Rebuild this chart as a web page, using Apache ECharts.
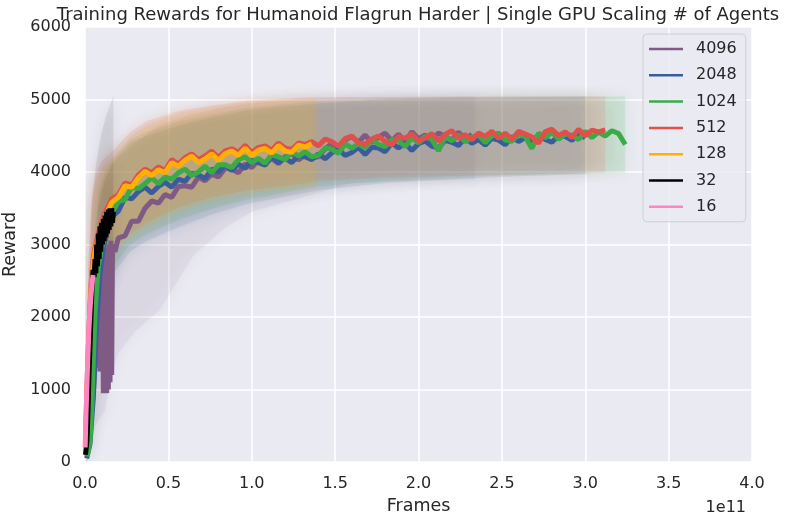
<!DOCTYPE html>
<html><head><meta charset="utf-8">
<script src="https://cdn.jsdelivr.net/npm/echarts@6/dist/echarts.min.js"></script>
<style>html,body{margin:0;padding:0;background:#fff}#c{width:789px;height:521px}</style>
</head><body><div id="c"></div>
<script>
// ---- data (frames in units of 1e11) ----
const names = ['4096','2048','1024','512','128','32','16'];
const colors = ['#7E5A84','#3B5C9C','#3AAB47','#E0504A','#FFB000','#000000','#FF85C0'];
const xTicks = [0.0,0.5,1.0,1.5,2.0,2.5,3.0,3.5,4.0];
const yTicks = [0,1000,2000,3000,4000,5000,6000];

const gridFrames = [0.20,0.24,0.28,0.32,0.36,0.40,0.44,0.48,0.52,0.56,0.60,0.64,0.68,0.72,0.76,0.80,0.84,0.88,0.92,0.96,
  1.00,1.04,1.08,1.12,1.16,1.20,1.24,1.28,1.32,1.36,1.40,1.44,1.48,1.52,1.56,1.60,1.64,1.68,1.72,1.76,
  1.80,1.84,1.88,1.92,1.96,2.00,2.04,2.08,2.12,2.16,2.20,2.24,2.28,2.32,2.36,2.40,2.44,2.48,2.52,2.56,
  2.60,2.64,2.68,2.72,2.76,2.80,2.84,2.88,2.92,2.96,3.00,3.04,3.08,3.12,3.16,3.20,3.24];

// 4096 agents
const purpleEarlyX = [0.005,0.02,0.03,0.04,0.05,0.06,0.065,0.07,0.075,0.08,0.085,0.09,0.095,0.10,0.105,0.11,0.115,0.12,0.125,0.13,0.135,0.14,0.145,0.15,0.155,0.16,0.165,0.17,0.18,0.19];
const purpleEarly = [100,250,400,700,950,1500,2300,1300,2550,1300,2600,1250,2650,1300,2700,950,2800,1000,2900,950,2950,1000,3000,1100,3050,1200,3000,2950,2900,3000];
const purpleLate = [3090,3120,3320,3320,3500,3600,3570,3690,3650,3800,3810,3790,3930,3880,3970,3930,4050,4040,3990,4110,4060,4160,4120,4190,4115,4210,4255,4165,4235,4195,
  4210,4320,4390,4320,4440,4490,4410,4510,4405,4480,4535,4430,4522,4414,4556,4458,4510,4430,4540,4490,4440,4550,4450,4520];
// 2048 agents
const blueEarlyX = [0.01,0.03,0.05,0.07,0.09,0.11,0.13,0.15,0.17];
const blueEarly = [50,250,900,1900,2600,2950,3150,3300,3400];
const blueLate = [3460,3650,3630,3730,3790,3710,3800,3860,3790,3900,3870,3980,3960,3910,4040,4000,4100,4020,4110,4050,4160,4130,4095,4210,4130,4190,4130,4230,4210,4170,
  4250,4182,4264,4316,4228,4270,4340,4240,4340,4330,4280,4400,4330,4400,4295,4390,4428,4355,4332,4436,4410,4365,4470,4395,4448,4370,4465,4440,4375,4488,4420,4475,4410,4515,4448,4410,4505,4490,4435,4528,4470];
// 1024 agents
const greenEarlyX = [0.01,0.02,0.03,0.04,0.048,0.06,0.07,0.08,0.10,0.12,0.14,0.16];
const greenEarly = [80,150,300,700,1300,2050,2400,2700,2950,3150,3300,3430];
const greenLate = [3590,3620,3790,3770,3840,3920,3840,3930,3900,3990,4040,3950,4000,4080,3990,4100,4100,4060,4170,4210,4130,4190,4120,4240,4210,4170,4285,4220,4280,4210,
  4230,4332,4315,4258,4390,4330,4390,4330,4450,4380,4350,4446,4432,4348,4474,4400,4494,4448,4292,4486,4430,4513,4416,4479,4512,4404,4496,4538,4440,4423,4516,4490,4323,4536,4469,4550,4452,4524,4506,4448,4560,4475,4550,4495,4570,4530,4380];
// 512 agents
const redEarlyX = [0.003,0.01,0.02,0.03,0.04,0.05,0.06,0.08,0.10,0.12,0.14,0.16];
const redEarly = [250,900,1600,2150,2580,2820,2960,3150,3300,3430,3530,3630];
const redLate = [3690,3850,3820,3960,4040,3990,4070,4020,4170,4110,4200,4250,4170,4220,4290,4200,4290,4320,4270,4370,4270,4340,4360,4300,4400,4330,4310,4400,4380,4420,
  4360,4455,4420,4355,4460,4495,4400,4382,4455,4498,4420,4375,4490,4468,4525,4430,4465,4530,4425,4518,4570,4462,4514,4446,4538,4490,4562,4464,4536,4448,4560,4522,4484,4396,4558,4590,4502,4554,4476,4588,4500,4576,4553,4580];
// 128 agents
const orangeEarlyX = [0.003,0.01,0.02,0.03,0.04,0.05,0.06,0.08,0.10,0.12,0.14,0.16];
const orangeEarly = [200,800,1500,2050,2500,2750,2900,3100,3250,3380,3480,3580];
const orangeLate = [3650,3810,3790,3920,4010,3950,4030,3990,4130,4080,4160,4220,4130,4180,4250,4160,4250,4290,4230,4330,4230,4300,4325,4260,4365,4290,4270,4370,4345,4390];
// 32 agents
const blackX = [0.003,0.012,0.018,0.024,0.030,0.036,0.042,0.048,0.055,0.060,0.065,0.070,0.075,0.080,0.085,0.090,0.095,0.100,0.105,0.110,0.115,0.120,0.125,0.130,0.135,0.140,0.145,0.150,0.155,0.160,0.165,0.170];
const blackY = [100,300,700,1200,1600,2000,2400,2650,2550,2800,2600,3000,2700,3150,2800,3250,2900,3300,3000,3350,3050,3400,3100,3450,3150,3480,3200,3500,3250,3500,3300,3450];
// 16 agents
const pinkX = [0.001,0.006,0.012,0.018,0.024,0.030,0.036,0.042,0.048];
const pinkY = [200,650,1100,1500,1850,2100,2300,2450,2580];

// std bands (lower / upper edges)
const purpleBandX = [0.005,0.03,0.06,0.09,0.12,0.16,0.2,0.3,0.45,0.65,0.85,1.0,1.3,1.6,2.0,2.34];
const purpleBandLo = [0,150,500,600,700,1200,1500,1800,2100,2850,3250,3450,3650,3850,3880,3900];
const purpleBandHi = [400,1500,3300,3700,3900,4100,4200,4400,4650,4800,4900,4950,5000,5030,5040,5040];
const blueBandX = [0.01,0.03,0.05,0.08,0.12,0.17,0.27,0.37,0.57,0.77,0.97,1.17,1.4,1.8,2.2,2.6,3.0];
const blueBandLo = [0,100,400,1400,2200,2600,2900,3050,3250,3420,3560,3650,3750,3850,3900,3940,3970];
const blueBandHi = [200,700,2000,3500,3900,4150,4400,4500,4650,4760,4850,4900,4950,5000,5020,5030,5040];
const greenBandX = [0.01,0.03,0.05,0.08,0.12,0.17,0.27,0.37,0.57,0.77,0.97,1.17,1.4,1.8,2.2,2.6,3.0,3.24];
const greenBandLo = [0,100,500,1800,2300,2700,3000,3150,3350,3500,3620,3700,3800,3880,3930,3960,3980,3990];
const greenBandHi = [300,800,2600,3700,4000,4200,4450,4550,4700,4800,4880,4930,4980,5010,5030,5040,5040,5040];
const redBandX = [0.003,0.02,0.04,0.07,0.1,0.17,0.27,0.37,0.57,0.77,0.97,1.17,1.4,1.8,2.2,2.6,3.0,3.12];
const redBandLo = [0,900,1700,2200,2500,2950,3150,3300,3520,3660,3750,3800,3880,3920,3950,3970,3990,4000];
const redBandHi = [700,2700,3700,4000,4150,4300,4550,4700,4850,4920,4980,5010,5030,5030,5040,5040,5040,5040];
const orangeBandX = [0.003,0.02,0.04,0.07,0.1,0.17,0.27,0.37,0.57,0.77,0.97,1.17,1.38];
const orangeBandLo = [0,800,1600,2100,2400,2900,3100,3250,3480,3620,3710,3760,3800];
const orangeBandHi = [600,2600,3600,3900,4050,4200,4490,4650,4820,4900,4970,5000,5020];
const blackBandX = [0.003,0.02,0.04,0.06,0.08,0.1,0.13,0.17];
const blackBandLo = [0,200,1100,1700,2000,2200,2400,2600];
const blackBandHi = [500,2000,3500,4000,4300,4550,4800,5050];
const pinkBandX = [0.001,0.01,0.02,0.03,0.04,0.048];
const pinkBandLo = [0,500,1000,1400,1700,1900];
const pinkBandHi = [600,1800,2700,3200,3500,3700];

// ---- build ----
const FONT = '"DejaVu Sans", sans-serif';
const TXT = '#262626';
const bandOpacity = [0.065, 0.11, 0.11, 0.11, 0.1, 0.08, 0.11];
function pairs(xs, ys){ return xs.map((x,i)=>[x, ys[i]]); }

const lineData = [
  pairs(purpleEarlyX.concat(gridFrames.slice(0, purpleLate.length)), purpleEarly.concat(purpleLate)),
  pairs(blueEarlyX.concat(gridFrames.slice(0, blueLate.length)), blueEarly.concat(blueLate)),
  pairs(greenEarlyX.concat(gridFrames.slice(0, greenLate.length)), greenEarly.concat(greenLate)),
  pairs(redEarlyX.concat(gridFrames.slice(0, redLate.length)), redEarly.concat(redLate)),
  pairs(orangeEarlyX.concat(gridFrames.slice(0, orangeLate.length)), orangeEarly.concat(orangeLate)),
  pairs(blackX, blackY),
  pairs(pinkX, pinkY)
];
const bands = [
  [purpleBandX, purpleBandLo, purpleBandHi],
  [blueBandX, blueBandLo, blueBandHi],
  [greenBandX, greenBandLo, greenBandHi],
  [redBandX, redBandLo, redBandHi],
  [orangeBandX, orangeBandLo, orangeBandHi],
  [blackBandX, blackBandLo, blackBandHi],
  [pinkBandX, pinkBandLo, pinkBandHi]
];

const series = [];
bands.forEach((b, k) => {
  series.push({
    type: 'custom', name: names[k] + ' band', silent: true, z: 1, clip: true,
    data: [[0, 0]],
    renderItem: function (params, api) {
      const pts = [];
      for (let i = 0; i < b[0].length; i++) pts.push(api.coord([b[0][i], b[2][i]]));
      for (let i = b[0].length - 1; i >= 0; i--) pts.push(api.coord([b[0][i], b[1][i]]));
      return { type: 'polygon', shape: { points: pts },
        style: { fill: colors[k], opacity: bandOpacity[k], shadowBlur: 14, shadowColor: colors[k] } };
    }
  });
});
lineData.forEach((d, k) => {
  series.push({
    type: 'line', name: names[k], data: d, color: colors[k], z: 3 + k,
    showSymbol: false, symbol: 'none', sampling: null,
    lineStyle: { width: 5, color: colors[k], join: 'bevel' }
  });
});

const chart = echarts.init(document.getElementById('c'), null, { renderer: 'canvas' });
chart.setOption({
  animation: false,
  backgroundColor: '#ffffff',
  grid: { left: 85, right: 37, top: 27, bottom: 59, show: true, backgroundColor: '#EAEAF2', borderWidth: 0, outerBoundsMode: 'none', containLabel: false },
  xAxis: {
    type: 'value', min: xTicks[0], max: xTicks[xTicks.length - 1], interval: 0.5,
    axisLine: { show: false }, axisTick: { show: false },
    splitLine: { lineStyle: { color: '#ffffff', width: 1.5 } },
    axisLabel: { formatter: v => v.toFixed(1), color: TXT, fontSize: 16, fontFamily: FONT, margin: 14 },
    name: 'Frames', nameLocation: 'middle', nameGap: 35,
    nameTextStyle: { color: TXT, fontSize: 17.5, fontFamily: FONT }
  },
  yAxis: {
    type: 'value', min: yTicks[0], max: yTicks[yTicks.length - 1], interval: 1000,
    axisLine: { show: false }, axisTick: { show: false },
    splitLine: { lineStyle: { color: '#ffffff', width: 1.5 } },
    axisLabel: { formatter: v => String(v), color: TXT, fontSize: 16, fontFamily: FONT, margin: 14 },
    name: 'Reward', nameLocation: 'middle', nameGap: 54,
    nameTextStyle: { color: TXT, fontSize: 17.5, fontFamily: FONT }
  },
  legend: {
    data: names, orient: 'vertical', left: 643, top: 34,
    icon: 'rect', itemWidth: 34, itemHeight: 2.5, itemGap: 6.3,
    padding: [5, 9, 5, 6],
    backgroundColor: 'rgba(234,234,242,0.8)', borderColor: 'rgba(204,204,204,0.9)', borderWidth: 1, borderRadius: 4,
    textStyle: { color: TXT, fontSize: 16, fontFamily: FONT, lineHeight: 20, padding: [0, 0, 0, 8] }
  },
  graphic: [
    { type: 'text', x: 418, y: 15, style: { text: 'Training Rewards for Humanoid Flagrun Harder | Single GPU Scaling # of Agents', fontSize: 18, fontFamily: FONT, fill: TXT, align: 'center', verticalAlign: 'middle' } },
    { type: 'text', x: 746, y: 508, style: { text: '1e11', fontSize: 16, fontFamily: FONT, fill: TXT, align: 'right', verticalAlign: 'middle' } }
  ],
  series: series
});
</script></body></html>
